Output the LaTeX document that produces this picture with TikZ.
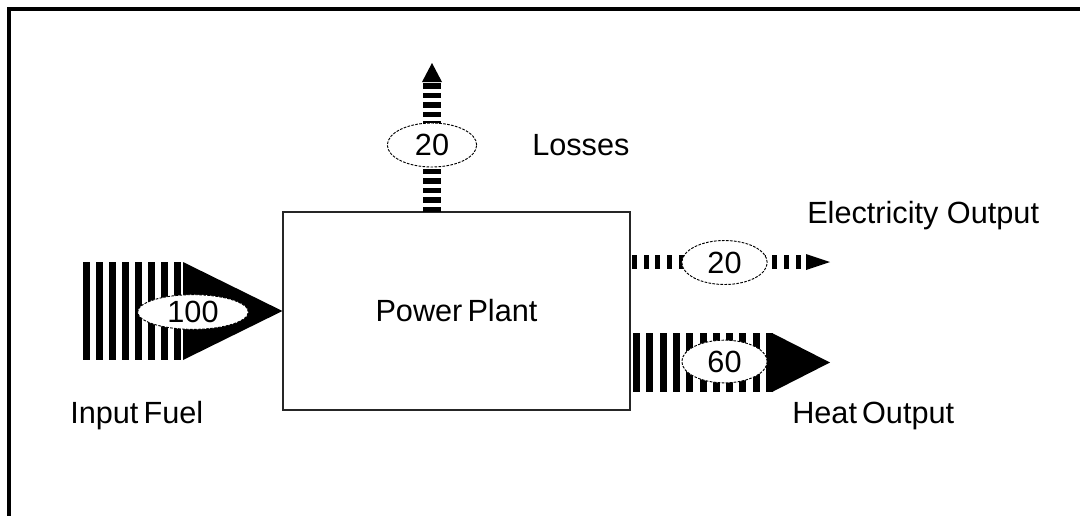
\documentclass[tikz,border=0pt]{standalone}
\usepackage{fontspec}
\setmainfont{Liberation Sans}
\usetikzlibrary{shapes.geometric, positioning}
\tikzset{
  frame/.style={draw=black, line width=2.3pt},
  plantbox/.style={draw=black!85, fill=white, line width=1.1pt, inner sep=0pt,
                   minimum width=260pt, minimum height=148.5pt, font=\fontsize{23}{27}\selectfont},
  qty/.style={ellipse, draw=black, dashed, dash pattern=on 2pt off 1pt, line width=0.7pt, fill=white,
              inner sep=0pt, font=\fontsize{23}{27}\selectfont},
  lbl/.style={font=\fontsize{23}{27}\selectfont, inner sep=0pt},
}

\begin{document}
\begin{tikzpicture}[x=0.75pt, y=-0.75pt]
\useasboundingbox (0,0) rectangle (1080,515);

% frame, open to the right and below
\draw[frame] (9,516) -- (9,9) -- (1081,9);

% the plant
\node[plantbox] (plant) at (456.5,311) {Power\,Plant};

% ---------------- input fuel ----------------
\foreach \k in {0,...,7} {
  \fill (83+\k*13,262) rectangle ++(7,98);
}
\fill (183,262) -- (plant.west) -- (183,360) -- cycle;
\node[qty, minimum width=83pt, minimum height=26pt] (fuelq) at (193,312) {100};
\node[lbl, anchor=base west] (fuel) at (70,423) {Input\,Fuel};

% ---------------- losses ----------------
\foreach \k in {0,...,13} {
  \fill (423,212-\k*9.5) rectangle ++(18,-5.5);
}
\fill (422,82) -- (432,63) -- (442,82) -- cycle;
\node[qty, minimum width=67pt, minimum height=33pt] (lossq) at (432,145) {20};
\node[lbl, anchor=base west] (loss) at (532,155) {Losses};

% ---------------- electricity ----------------
\foreach \k in {0,...,14} {
  \fill (632+\k*11.7,255) rectangle ++(5,14);
}
\fill (806,254) -- (830,262) -- (806,270) -- cycle;
\node[qty, minimum width=64pt, minimum height=33pt] (elecq) at (724.5,262.5) {20};
\node[lbl, anchor=base west] (elec) at (807,223) {Electricity Output};

% ---------------- heat ----------------
\foreach \k in {0,...,10} {
  \fill (633+\k*13.3,333) rectangle ++(7,59);
}
\fill (772,333) -- (830,362.5) -- (772,392) -- cycle;
\node[qty, minimum width=64pt, minimum height=32pt] (heatq) at (724.5,361.5) {60};
\node[lbl, anchor=base west] (heat) at (792,423) {Heat\,Output};
\end{tikzpicture}
\end{document}
